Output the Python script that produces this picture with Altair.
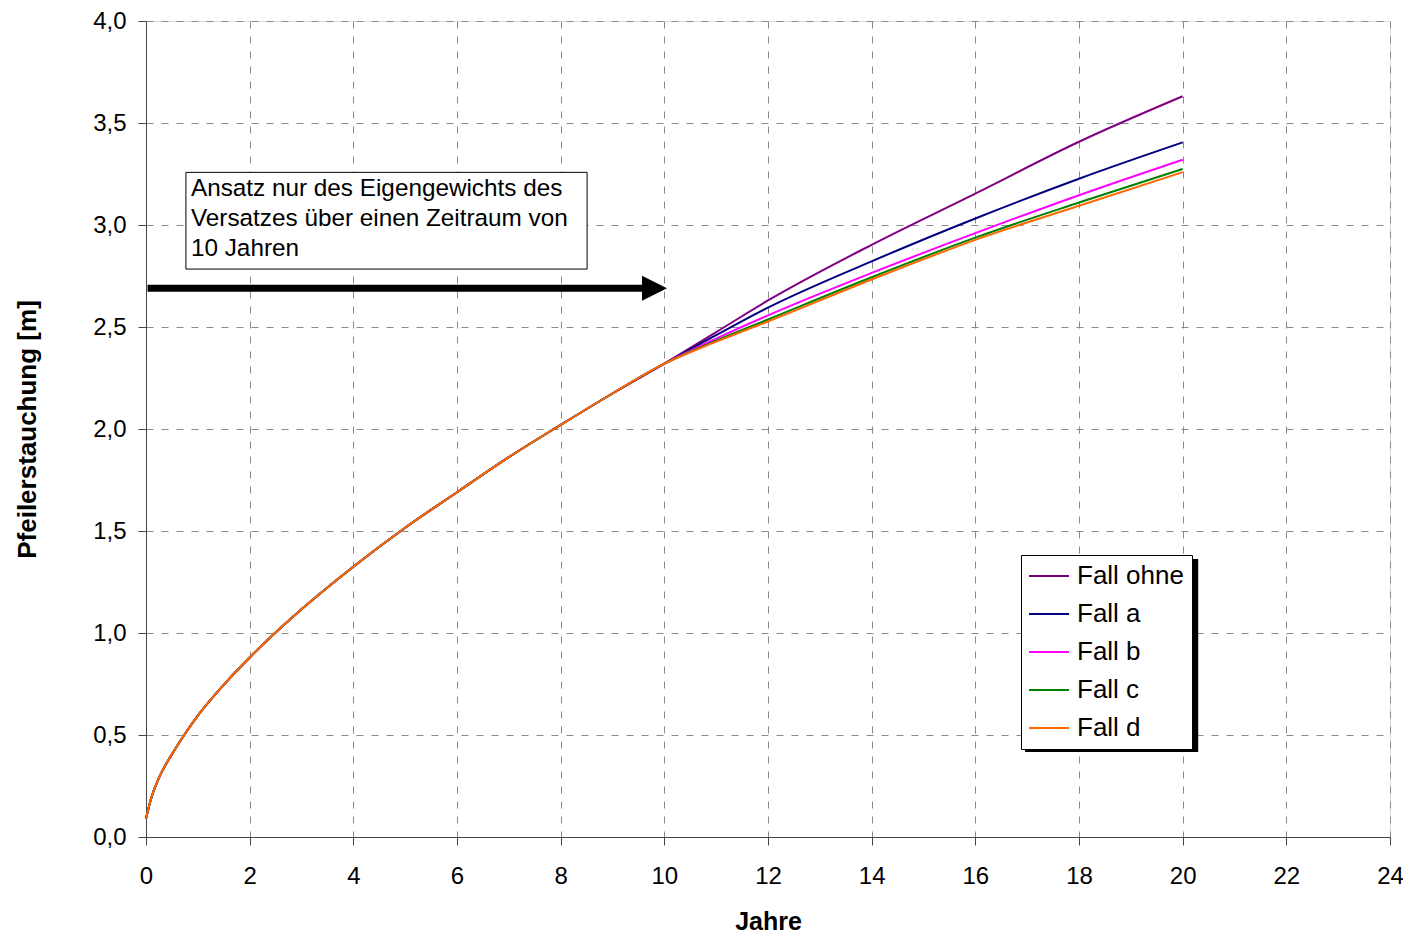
import altair as alt
import pandas as pd

# ---- data ----
jahre_basis = [0, 0.1, 0.25, 0.5, 0.75, 1, 1.5, 2, 3, 4, 5, 6, 7, 8, 9, 10]
stauchung_basis = [0.09, 0.19, 0.29, 0.405, 0.505, 0.595, 0.746, 0.88, 1.116, 1.325,
                   1.516, 1.69, 1.862, 2.02, 2.174, 2.32]

jahre_ast = [11, 12, 14, 16, 18, 20]
fall_ohne = [2.475, 2.63, 2.903, 3.154, 3.408, 3.631]
fall_a = [2.46, 2.595, 2.822, 3.032, 3.227, 3.405]
fall_b = [2.443, 2.557, 2.765, 2.96, 3.146, 3.32]
fall_c = [2.433, 2.537, 2.744, 2.938, 3.11, 3.275]
fall_d = [2.428, 2.527, 2.733, 2.927, 3.094, 3.259]

faelle = ["Fall ohne", "Fall a", "Fall b", "Fall c", "Fall d"]
farben = ["#800080", "#000080", "#FF00FF", "#008000", "#FF6600"]

x_ticks = list(range(0, 25, 2))
y_ticks = [0, 0.5, 1.0, 1.5, 2.0, 2.5, 3.0, 3.5, 4.0]

annot_lines = ["Ansatz nur des Eigengewichts des",
               "Versatzes über einen Zeitraum von",
               "10 Jahren"]

# decoration geometry in data units
box_x, box_x2, box_y, box_y2 = 0.77, 8.51, 2.784, 3.258
text_x = 0.867
text_y = [3.175, 3.028, 2.882]
arrow_y = 2.69
arrow_x, arrow_x2 = 0.03, 9.62
head_x = 9.81
shadow_x, shadow_x2, shadow_y, shadow_y2 = 16.96, 20.30, 0.417, 1.363

FONT = "Liberation Sans"

rows = []
for name, ast in zip(faelle, [fall_ohne, fall_a, fall_b, fall_c, fall_d]):
    for x, y in zip(jahre_basis, stauchung_basis):
        rows.append({"Jahre": x, "Stauchung": y, "Fall": name})
    for x, y in zip(jahre_ast, ast):
        rows.append({"Jahre": x, "Stauchung": y, "Fall": name})
df = pd.DataFrame(rows)

xscale = alt.Scale(domain=[0, 24], nice=False, zero=False)
yscale = alt.Scale(domain=[0, 4], nice=False, zero=False)

grid_dash = [7, 8]

xaxis = alt.Axis(values=x_ticks, title="Jahre", grid=True, gridDash=grid_dash,
                 gridColor="#8a8a8a", gridWidth=1, tickSize=8, tickColor="#444",
                 domainColor="#444", labelFontSize=24, labelFont=FONT,
                 labelColor="black", labelPadding=19, labelFlush=False,
                 titleFont=FONT, titleFontSize=25, titleFontWeight="bold",
                 titleColor="black", titlePadding=21)
yaxis = alt.Axis(values=y_ticks, title="Pfeilerstauchung [m]", grid=True,
                 gridDash=grid_dash, gridColor="#8a8a8a", gridWidth=1,
                 tickSize=8, tickColor="#444", domainColor="#444",
                 labelFontSize=24, labelFont=FONT, labelColor="black",
                 labelPadding=12, labelFlush=False,
                 labelExpr="replace(format(datum.value, '.1f'), '.', ',')",
                 titleFont=FONT, titleFontSize=26, titleFontWeight="bold",
                 titleColor="black", titlePadding=52)

lines = alt.Chart(df).mark_line(strokeWidth=2, interpolate="monotone").encode(
    x=alt.X("Jahre:Q", scale=xscale, axis=xaxis),
    y=alt.Y("Stauchung:Q", scale=yscale, axis=yaxis),
    color=alt.Color("Fall:N",
                    scale=alt.Scale(domain=faelle, range=farben),
                    sort=faelle,
                    legend=alt.Legend(orient="none", legendX=875, legendY=534,
                                      title=None, symbolType="M-2,0L2,0",
                                      symbolStrokeWidth=2, symbolSize=400,
                                      symbolOffset=7,
                                      labelFontSize=26, labelFont=FONT,
                                      labelColor="black", rowPadding=12,
                                      padding=8, strokeColor="black",
                                      fillColor="white", labelOffset=15)),
)

box_df = pd.DataFrame([{"x": box_x, "x2": box_x2, "y": box_y, "y2": box_y2}])
box = alt.Chart(box_df).mark_rect(fill="white", stroke="black", strokeWidth=1).encode(
    x=alt.X("x:Q", scale=xscale), x2="x2", y=alt.Y("y:Q", scale=yscale), y2="y2")

text_df = pd.DataFrame({"x": [text_x] * 3, "y": text_y, "t": annot_lines})
text = alt.Chart(text_df).mark_text(align="left", baseline="middle", fontSize=24.3,
                                    font=FONT, color="black").encode(
    x=alt.X("x:Q", scale=xscale), y=alt.Y("y:Q", scale=yscale), text="t:N")

shaft_df = pd.DataFrame([{"x": arrow_x, "x2": arrow_x2, "y": arrow_y}])
shaft = alt.Chart(shaft_df).mark_rule(strokeWidth=7, color="black").encode(
    x=alt.X("x:Q", scale=xscale), x2="x2", y=alt.Y("y:Q", scale=yscale))

head_df = pd.DataFrame([{"x": head_x, "y": arrow_y}])
head = alt.Chart(head_df).mark_point(shape="M-1,-1L1,0L-1,1Z", size=625, filled=True,
                                     color="black", opacity=1, strokeWidth=0).encode(
    x=alt.X("x:Q", scale=xscale), y=alt.Y("y:Q", scale=yscale))

shadow_df = pd.DataFrame([{"x": shadow_x, "x2": shadow_x2, "y": shadow_y, "y2": shadow_y2}])
shadow = alt.Chart(shadow_df).mark_rect(fill="black").encode(
    x=alt.X("x:Q", scale=xscale), x2="x2", y=alt.Y("y:Q", scale=yscale), y2="y2")

chart = alt.layer(box, text, shaft, head, shadow, lines).properties(
    width=1244, height=816,
    autosize=alt.AutoSizeParams(type="none"),
    padding={"left": 138, "top": 13, "right": 13, "bottom": 97},
).configure_view(stroke="#888", strokeWidth=1).configure(background="white")

chart.save("out.html", embed_options={"renderer": "svg", "actions": False})
